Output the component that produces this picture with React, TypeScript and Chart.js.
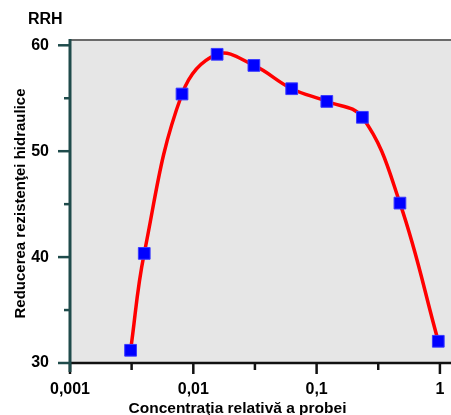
import React, { useEffect, useRef } from 'react';
import { Chart, registerables } from 'chart.js';

Chart.register(...registerables);

// Data
const concentrations = [0.0031, 0.004, 0.0081, 0.0156, 0.031, 0.0628, 0.121, 0.235, 0.474, 0.97];
const rrhValues = [31.2, 40.35, 55.4, 59.15, 58.1, 55.9, 54.7, 53.2, 45.1, 32.05];

// Axis ticks
const xMajorTicks = [0.001, 0.01, 0.1, 1];
const xMajorLabels = ['0,001', '0,01', '0,1', '1'];
const xMinorTicks = [0.00316, 0.0316, 0.316];
const yMajorTicks = [30, 40, 50, 60];
const yMajorLabels = ['30', '40', '50', '60'];
const yMinorTicks = [35, 45, 55];

const titleText = 'RRH';
const xTitle = 'Concentraţia relativă a probei';
const yTitle = 'Reducerea rezistenţei hidraulice';

const FONT = '"Liberation Sans", Arial, sans-serif';
const AXIS_TEAL = '#1f4b4b';

const decorPlugin = {
  id: 'decor',
  beforeDraw(chart: any) {
    const { ctx, chartArea: a } = chart;
    ctx.save();
    ctx.fillStyle = '#ffffff';
    ctx.fillRect(0, 0, chart.width, chart.height);
    ctx.fillStyle = '#e6e6e6';
    ctx.fillRect(a.left, a.top, a.right - a.left, a.bottom - a.top);
    ctx.restore();
  },
  beforeDatasetsDraw(chart: any) {
    const { ctx, chartArea: a, scales } = chart;
    const xs = scales.x;
    const ys = scales.y;
    ctx.save();
    // top border
    ctx.strokeStyle = '#6a6a6a';
    ctx.lineWidth = 2;
    ctx.beginPath();
    ctx.moveTo(a.left, a.top);
    ctx.lineTo(a.right, a.top);
    ctx.stroke();
    // x axis line
    ctx.strokeStyle = '#111111';
    ctx.lineWidth = 2.5;
    ctx.beginPath();
    ctx.moveTo(a.left, a.bottom);
    ctx.lineTo(a.right, a.bottom);
    ctx.stroke();
    // x ticks
    ctx.lineWidth = 2.5;
    xMajorTicks.forEach((v) => {
      const px = xs.getPixelForValue(v);
      ctx.beginPath();
      ctx.moveTo(px, a.bottom);
      ctx.lineTo(px, a.bottom + 11);
      ctx.stroke();
    });
    xMinorTicks.forEach((v) => {
      const px = xs.getPixelForValue(v);
      ctx.beginPath();
      ctx.moveTo(px, a.bottom);
      ctx.lineTo(px, a.bottom + 7);
      ctx.stroke();
    });
    // y axis line
    ctx.strokeStyle = AXIS_TEAL;
    ctx.lineWidth = 3;
    ctx.beginPath();
    ctx.moveTo(a.left, a.top - 1);
    ctx.lineTo(a.left, a.bottom + 9);
    ctx.stroke();
    // y ticks
    ctx.lineWidth = 2.5;
    yMajorTicks.forEach((v) => {
      const py = ys.getPixelForValue(v);
      ctx.beginPath();
      ctx.moveTo(a.left, py);
      ctx.lineTo(a.left - 12, py);
      ctx.stroke();
    });
    yMinorTicks.forEach((v) => {
      const py = ys.getPixelForValue(v);
      ctx.beginPath();
      ctx.moveTo(a.left, py);
      ctx.lineTo(a.left - 6, py);
      ctx.stroke();
    });
    ctx.restore();
  },
  afterDraw(chart: any) {
    const { ctx, chartArea: a, scales } = chart;
    const xs = scales.x;
    ctx.save();
    ctx.fillStyle = '#000000';
    // x tick labels
    ctx.font = `bold 16px ${FONT}`;
    ctx.textAlign = 'center';
    ctx.textBaseline = 'alphabetic';
    xMajorTicks.forEach((v, i) => {
      ctx.fillText(xMajorLabels[i], xs.getPixelForValue(v), a.bottom + 31);
    });
    // RRH
    ctx.font = `bold 16px ${FONT}`;
    ctx.textAlign = 'left';
    ctx.fillText(titleText, 28, 23.5);
    // x title
    ctx.font = `bold 15.5px ${FONT}`;
    ctx.textAlign = 'center';
    ctx.fillText(xTitle, 237.5, 412.5);
    // y title
    ctx.font = `bold 15px ${FONT}`;
    ctx.translate(24.5, 203.5);
    ctx.rotate(-Math.PI / 2);
    ctx.textAlign = 'center';
    ctx.fillText(yTitle, 0, 0);
    ctx.restore();
  },
};

export default function App() {
  const canvasRef = useRef<HTMLCanvasElement | null>(null);

  useEffect(() => {
    document.body.style.margin = '0';
    const canvas = canvasRef.current;
    if (!canvas) return;
    Chart.defaults.font.family = FONT;
    const chart = new Chart(canvas, {
      type: 'line',
      data: {
        datasets: [
          {
            data: concentrations.map((c, i) => ({ x: c, y: rrhValues[i] })),
            borderColor: '#ff0000',
            borderWidth: 3.5,
            tension: 0.4,
            fill: false,
            pointStyle: 'rect',
            pointRadius: 8.3,
            pointBackgroundColor: '#0000ff',
            pointBorderColor: '#3a3aff',
            pointBorderWidth: 1,
          },
        ],
      },
      options: {
        animation: false,
        responsive: false,
        maintainAspectRatio: false,
        devicePixelRatio: 1,
        layout: { autoPadding: false, padding: { top: 40, right: 0, left: 0, bottom: 0 } },
        plugins: {
          legend: { display: false },
          tooltip: { enabled: false },
          title: { display: false },
        },
        scales: {
          x: {
            type: 'logarithmic',
            min: 0.001,
            max: 1.23,
            border: { display: false },
            grid: { display: false },
            ticks: { display: false },
            afterFit: (scale: any) => {
              scale.height = 52;
            },
          },
          y: {
            type: 'linear',
            min: 30,
            max: 60.5,
            border: { display: false },
            grid: {
              drawOnChartArea: false,
              drawTicks: true,
              tickLength: 21,
              tickColor: 'rgba(0,0,0,0)',
            },
            afterBuildTicks: (scale: any) => {
              scale.ticks = yMajorTicks.map((v) => ({ value: v }));
            },
            afterFit: (scale: any) => {
              scale.width = 70;
            },
            ticks: {
              autoSkip: false,
              padding: 0,
              color: '#000000',
              font: { size: 16, weight: 'bold', family: FONT },
              callback: (_v: any, i: number) => yMajorLabels[i],
            },
          },
        },
      },
      plugins: [decorPlugin],
    });
    return () => chart.destroy();
  }, []);

  return (
    <div style={{ width: 451, height: 415 }}>
      <canvas ref={canvasRef} width={451} height={415} style={{ display: 'block' }} />
    </div>
  );
}
